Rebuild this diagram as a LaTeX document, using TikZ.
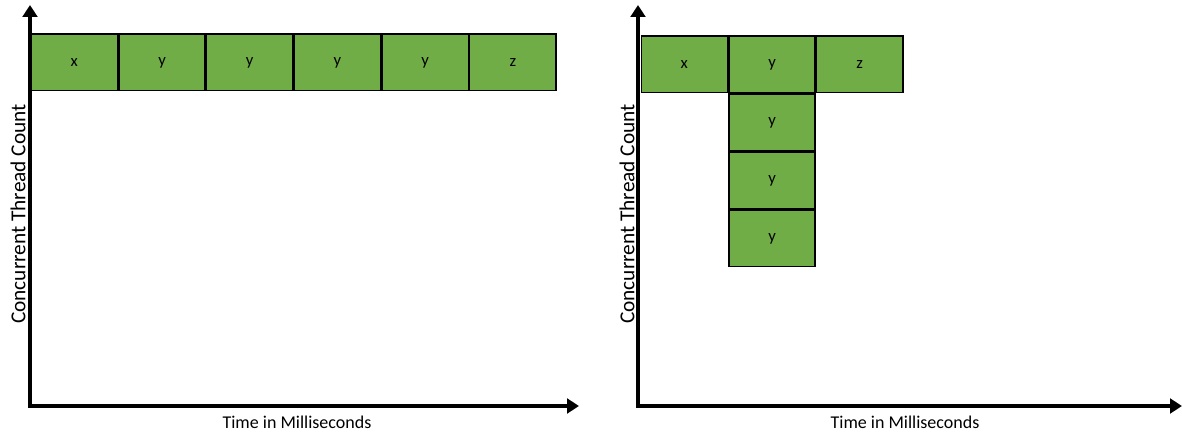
\documentclass[tikz,border=0pt]{standalone}
\usepackage{fontspec}
\setmainfont{Carlito}
\usetikzlibrary{arrows.meta}
\definecolor{boxgreen}{HTML}{70AD47}
\tikzset{
  cell/.style={draw=black, line width=1.1pt, fill=boxgreen, minimum width=87.7*0.75pt-1.1pt, minimum height=58*0.75pt-1.1pt, inner sep=0pt, font=\fontsize{12.5}{14}\selectfont},
  axis/.style={line width=2.6pt, -{Triangle[length=9pt,width=11pt]}},
  lbl/.style={font=\fontsize{13.5}{15}\selectfont, inner sep=0pt},
  ylbl/.style={font=\fontsize{16}{18}\selectfont, inner sep=0pt, rotate=90}
}
\begin{document}
\begin{tikzpicture}[x=0.75pt,y=-0.75pt]
\useasboundingbox (0,0) rectangle (1182,434);
% left chart
\coordinate (o1) at (30,406);
\coordinate (ytip1) at (30,5);
\coordinate (xtip1) at (579,406);
\node[cell, anchor=north west] (a1) at (30.5,33.5) {x};
\node[cell, anchor=west] (a2) at (a1.east) {y};
\node[cell, anchor=west] (a3) at (a2.east) {y};
\node[cell, anchor=west] (a4) at (a3.east) {y};
\node[cell, anchor=west] (a5) at (a4.east) {y};
\node[cell, anchor=west] (a6) at (a5.east) {z};
\draw[axis] ([xshift=-1.3pt]o1) -- (xtip1);
\draw[axis] ([yshift=-1.3pt]o1) -- (ytip1);
\node[ylbl] (yl1) at (18,214) {Concurrent Thread Count};
\node[lbl] (xl1) at (297,422) {Time in Milliseconds};
% right chart
\coordinate (o2) at (638,406);
\coordinate (ytip2) at (638,5);
\coordinate (xtip2) at (1182,406);
\node[cell, anchor=north west] (b1) at (640.5,35.5) {x};
\node[cell, anchor=west] (b2) at (b1.east) {y};
\node[cell, anchor=west] (b3) at (b2.east) {z};
\node[cell, anchor=north] (c1) at (b2.south) {y};
\node[cell, anchor=north] (c2) at (c1.south) {y};
\node[cell, anchor=north] (c3) at (c2.south) {y};
\draw[axis] ([xshift=-1.3pt]o2) -- (xtip2);
\draw[axis] ([yshift=-1.3pt]o2) -- (ytip2);
\node[ylbl] (yl2) at (627,214) {Concurrent Thread Count};
\node[lbl] (xl2) at (905,422) {Time in Milliseconds};
\end{tikzpicture}
\end{document}
